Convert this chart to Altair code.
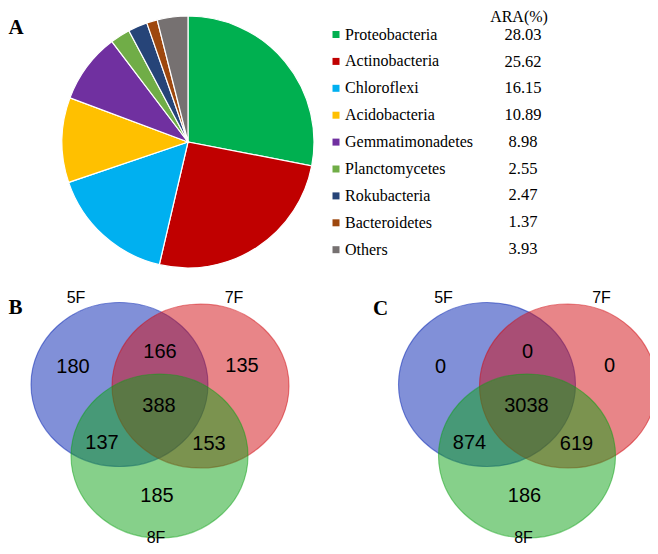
import altair as alt
import pandas as pd

# ---------------- data ----------------
phyla = ["Proteobacteria", "Actinobacteria", "Chloroflexi", "Acidobacteria",
         "Gemmatimonadetes", "Planctomycetes", "Rokubacteria", "Bacteroidetes", "Others"]
ara = [28.03, 25.62, 16.15, 10.89, 8.98, 2.55, 2.47, 1.37, 3.93]
ara_labels = ["28.03", "25.62", "16.15", "10.89", "8.98", "2.55", "2.47", "1.37", "3.93"]
pie_colors = ["#00B050", "#C00000", "#00B0F0", "#FFC000", "#7030A0",
              "#70AD47", "#264478", "#9E480E", "#767171"]

venn_sets = ["5F", "7F", "8F"]
venn_colors = ["#0321B1", "#D10B11", "#0DA115"]
regions = ["5F", "5F&7F", "7F", "5F&7F&8F", "5F&8F", "7F&8F", "8F"]
counts_B = [180, 166, 135, 388, 137, 153, 185]
counts_C = [0, 0, 0, 3038, 874, 619, 186]

# ---------------- layout (page pixel coordinates) ----------------
W, H = 642, 538
panel_x0 = {"B": 0.0, "C": 367.5}
ell_center = {"5F": (119.5, 384.5), "7F": (200.5, 386.0), "8F": (159.5, 456.0)}
set_label_pos = {"5F": (76, 298), "7F": (234, 298), "8F": (156, 538)}
region_pos = {"5F": (73, 367), "5F&7F": (160, 352), "7F": (242, 366),
              "5F&7F&8F": (159, 406), "5F&8F": (102, 443), "7F&8F": (209, 444),
              "8F": (157, 496)}
rx, ry = 88.5, 82.0
b = ry / rx
k = 0.5523
ellipse_path = (
    f"M 1 0 C 1 {k*b:.4f} {k:.4f} {b:.4f} 0 {b:.4f} "
    f"C {-k:.4f} {b:.4f} -1 {k*b:.4f} -1 0 "
    f"C -1 {-k*b:.4f} {-k:.4f} {-b:.4f} 0 {-b:.4f} "
    f"C {k:.4f} {-b:.4f} 1 {-k*b:.4f} 1 0 Z"
)

xs = alt.Scale(domain=[8, 8 + W], range=[0, W])
ys = alt.Scale(domain=[8 + H, 8])

# ---------------- tables ----------------
pie_df = pd.DataFrame({"phylum": phyla, "ara": ara, "idx": list(range(len(phyla)))})

row_y0, row_dy = 35.0, 26.7
ara_df = pd.DataFrame({"label": ara_labels,
                       "x": [523] * len(ara_labels),
                       "y": [row_y0 + row_dy * i for i in range(len(ara_labels))]})

ell_rows, set_rows, num_rows = [], [], []
for panel, counts in (("B", counts_B), ("C", counts_C)):
    dx = panel_x0[panel]
    for s, c in zip(venn_sets, venn_colors):
        cx, cy = ell_center[s]
        ell_rows.append({"panel": panel, "set": s, "x": cx + dx, "y": cy, "color": c})
        lx, ly = set_label_pos[s]
        set_rows.append({"panel": panel, "label": s, "x": lx + dx, "y": ly})
    for r, n in zip(regions, counts):
        px, py = region_pos[r]
        num_rows.append({"panel": panel, "label": str(n), "x": px + dx, "y": py})
ell_df = pd.DataFrame(ell_rows)
set_df = pd.DataFrame(set_rows)
num_df = pd.DataFrame(num_rows)

letters_df = pd.DataFrame({"label": ["A", "B", "C"],
                           "x": [8.5, 8.5, 373.0],
                           "y": [34.0, 314.0, 315.0]})
header_df = pd.DataFrame({"label": ["ARA(%)"], "x": [519], "y": [17]})

X = lambda: alt.X("x:Q", scale=xs, axis=None)
Y = lambda: alt.Y("y:Q", scale=ys, axis=None)

# ---------------- layers ----------------
pie = alt.Chart(pie_df).mark_arc(radius=126, stroke="white", strokeWidth=1.2).encode(
    theta=alt.Theta("ara:Q", stack=True),
    color=alt.Color("phylum:N",
                    scale=alt.Scale(domain=phyla, range=pie_colors),
                    legend=alt.Legend(orient="none", legendX=320, legendY=18.5,
                                      title=None, symbolType="square", symbolSize=49,
                                      symbolStrokeWidth=0, labelFont="Liberation Serif",
                                      labelFontSize=16, labelColor="black",
                                      labelOffset=1, rowPadding=10.9, padding=0)),
    order=alt.Order("idx:Q"),
    x=alt.value(180), y=alt.value(134),
)

ara_text = alt.Chart(ara_df).mark_text(font="Liberation Serif", fontSize=16.5,
                                       color="black", baseline="middle").encode(
    x=X(), y=Y(), text="label:N")

header = alt.Chart(header_df).mark_text(font="Liberation Serif", fontSize=16,
                                        color="black", baseline="middle").encode(
    x=X(), y=Y(), text="label:N")

ellipses = alt.Chart(ell_df).mark_point(shape=ellipse_path, size=(2 * rx) ** 2,
                                        filled=True, fillOpacity=0.5,
                                        strokeOpacity=0.5, strokeWidth=1.1).encode(
    x=X(), y=Y(),
    fill=alt.Fill("color:N", scale=None),
    stroke=alt.Stroke("color:N", scale=None),
    detail="panel:N",
)

set_text = alt.Chart(set_df).mark_text(font="Liberation Sans", fontSize=16,
                                       color="black", baseline="middle").encode(
    x=X(), y=Y(), text="label:N")

num_text = alt.Chart(num_df).mark_text(font="Liberation Sans", fontSize=20,
                                       color="black", baseline="middle").encode(
    x=X(), y=Y(), text="label:N")

letters = alt.Chart(letters_df).mark_text(font="Liberation Serif", fontSize=21,
                                          fontWeight="bold", color="black",
                                          align="left", baseline="alphabetic").encode(
    x=X(), y=Y(), text="label:N")

chart = alt.layer(pie, ara_text, header, ellipses, set_text, num_text, letters).properties(
    width=W, height=H, padding=0, autosize=alt.AutoSizeParams(type="none"),
    background="white",
).configure_view(stroke=None)

chart.save("out.html", embed_options={"renderer": "svg", "actions": False})
